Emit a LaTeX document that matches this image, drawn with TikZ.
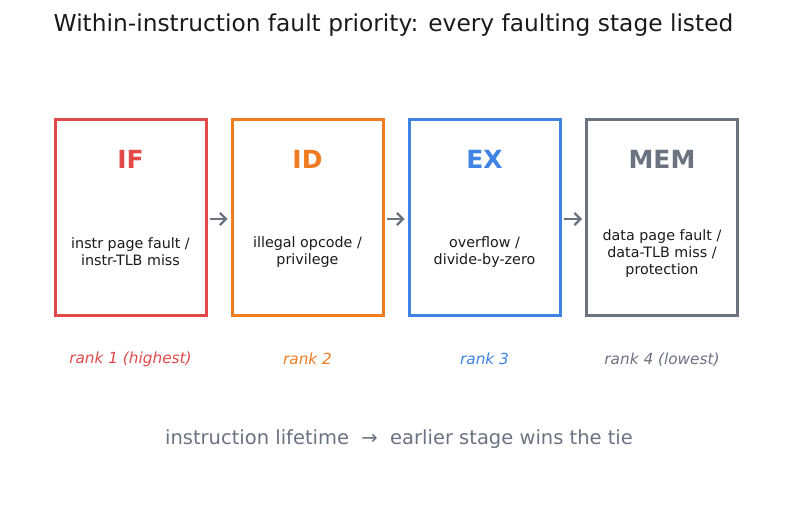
\documentclass[tikz,border=0pt]{standalone}
\usepackage{fontspec}
\setmainfont{DejaVu Sans}
\usetikzlibrary{arrows.meta}
\definecolor{cred}{HTML}{E24A4A}
\definecolor{corange}{HTML}{F07C22}
\definecolor{cblue}{HTML}{3F84E5}
\definecolor{cgray}{HTML}{6B7280}
\definecolor{ctext}{HTML}{1A1A1A}
\begin{document}
\begin{tikzpicture}[x=1pt,y=-1pt,
  stagebox/.style={draw, line width=3pt, minimum width=151pt, minimum height=196pt, inner sep=0pt},
  stagelabel/.style={font=\fontsize{25}{30}\selectfont\bfseries},
  body/.style={font=\fontsize{14.3}{17.2}\selectfont, text=ctext, align=center},
  rank/.style={font=\fontsize{15.3}{18}\selectfont\itshape},
  conn/.style={draw=cgray, line width=2.2pt, -{Straight Barb[length=6pt,width=12pt]}}]
\useasboundingbox (0,0) rectangle (787,510);
\node[font=\fontsize{23.3}{28}\selectfont, text=ctext] (title) at (393.5,25) {Within-instruction fault priority: every faulting stage listed};
\node[stagebox, draw=cred] (if) at (130.5,218) {};
\node[stagebox, draw=corange] (id) at (307.5,218) {};
\node[stagebox, draw=cblue] (ex) at (484.5,218) {};
\node[stagebox, draw=cgray] (mem) at (662,218) {};
\node[stagelabel, text=cred] (ifl) at (130.5,159) {IF};
\node[stagelabel, text=corange] (idl) at (307.5,159) {ID};
\node[stagelabel, text=cblue] (exl) at (484.5,159) {EX};
\node[stagelabel, text=cgray] (meml) at (662,159) {MEM};
\node[body] (ifb) at (130.5,252) {instr page fault /\\instr-TLB miss};
\node[body] (idb) at (307.5,252) {illegal opcode /\\privilege};
\node[body] (exb) at (484.5,252) {overflow /\\divide-by-zero};
\node[body] (memb) at (662,253.5) {data page fault /\\data-TLB miss /\\protection};
\node[rank, text=cred] (r1) at (130.5,359) {rank 1 (highest)};
\node[rank, text=corange] (r2) at (307.5,359) {rank 2};
\node[rank, text=cblue] (r3) at (484.5,359) {rank 3};
\node[rank, text=cgray] (r4) at (662,360) {rank 4 (lowest)};
\node[font=\fontsize{19.5}{23}\selectfont, text=cgray] (foot) at (399,439) {instruction lifetime \ → \ earlier stage wins the tie};
\draw[conn] ([xshift=2pt,yshift=-1pt]if.east) -- ([xshift=-3pt,yshift=-1pt]id.west);
\draw[conn] ([xshift=2pt,yshift=-1pt]id.east) -- ([xshift=-3pt,yshift=-1pt]ex.west);
\draw[conn] ([xshift=2pt,yshift=-1pt]ex.east) -- ([xshift=-3pt,yshift=-1pt]mem.west);
\end{tikzpicture}
\end{document}
